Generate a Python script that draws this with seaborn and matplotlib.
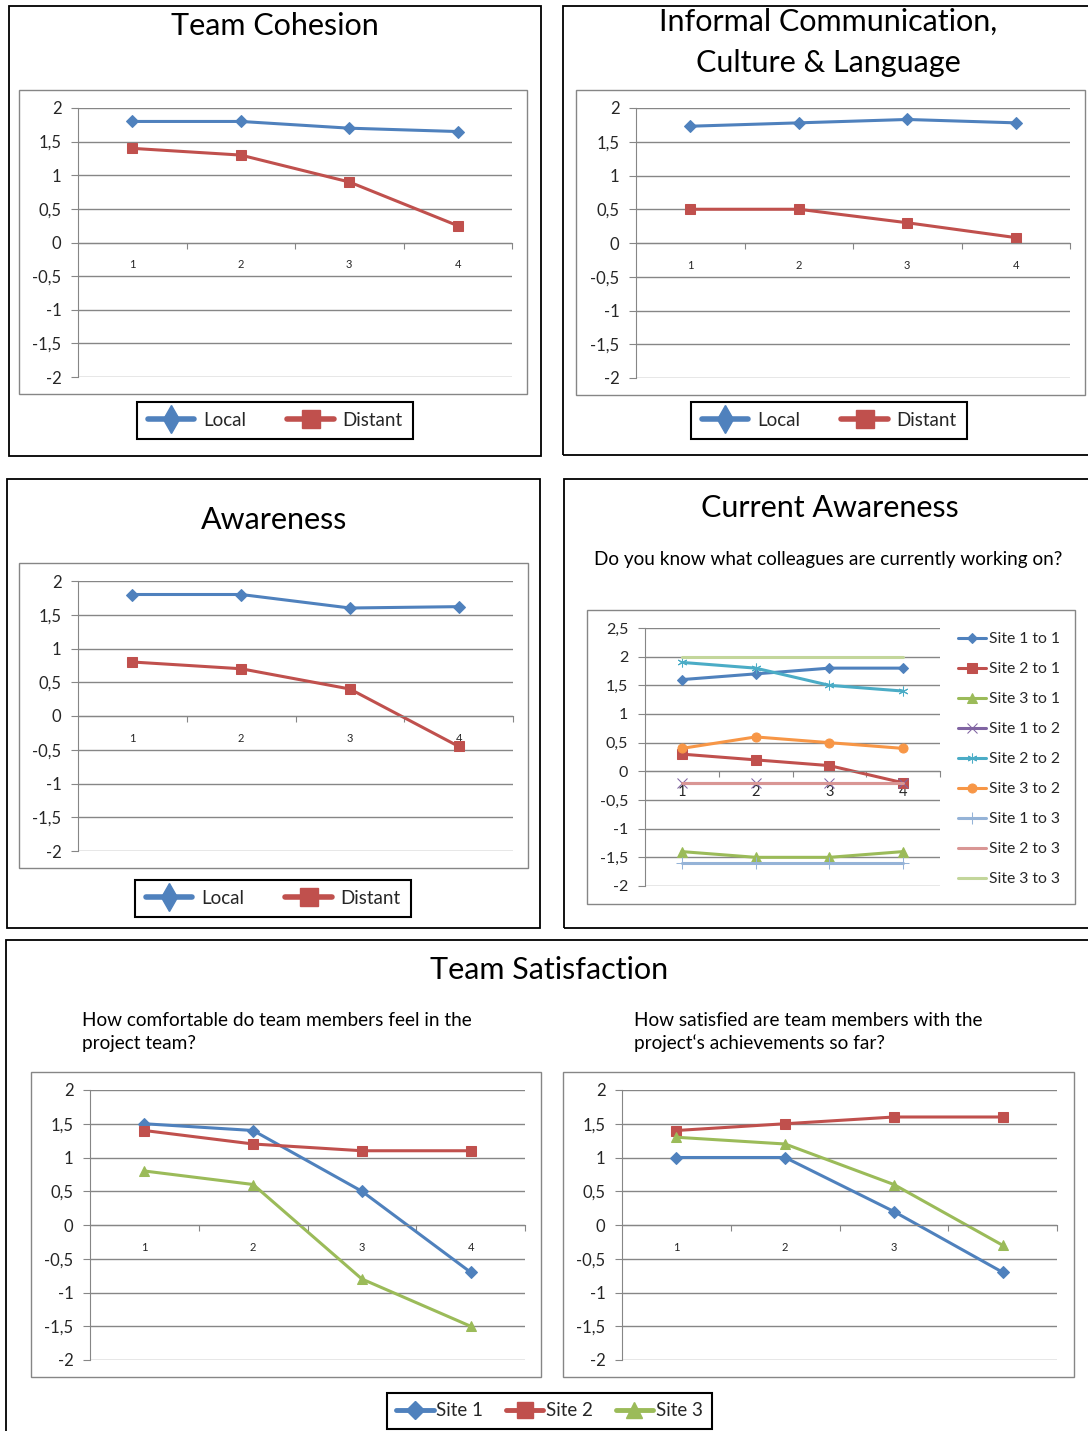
import seaborn as sns
import matplotlib.pyplot as plt
from matplotlib.patches import Rectangle
from matplotlib.lines import Line2D

# data
categories = [1, 2, 3, 4]

cohesion_local = [1.8, 1.8, 1.7, 1.65]
cohesion_distant = [1.4, 1.3, 0.9, 0.25]

informal_local = [1.73, 1.78, 1.83, 1.78]
informal_distant = [0.5, 0.5, 0.3, 0.08]

awareness_local = [1.8, 1.8, 1.6, 1.62]
awareness_distant = [0.8, 0.7, 0.4, -0.45]

site1_to_1 = [1.6, 1.7, 1.8, 1.8]
site2_to_1 = [0.3, 0.2, 0.1, -0.2]
site3_to_1 = [-1.4, -1.5, -1.5, -1.4]
site1_to_2 = [-0.2, -0.2, -0.2, -0.2]
site2_to_2 = [1.9, 1.8, 1.5, 1.4]
site3_to_2 = [0.4, 0.6, 0.5, 0.4]
site1_to_3 = [-1.6, -1.6, -1.6, -1.6]
site2_to_3 = [-0.2, -0.2, -0.2, -0.2]
site3_to_3 = [2.0, 2.0, 2.0, 2.0]
current_labels = ["Site 1 to 1", "Site 2 to 1", "Site 3 to 1",
                  "Site 1 to 2", "Site 2 to 2", "Site 3 to 2",
                  "Site 1 to 3", "Site 2 to 3", "Site 3 to 3"]

comfort_site1 = [1.5, 1.4, 0.5, -0.7]
comfort_site2 = [1.4, 1.2, 1.1, 1.1]
comfort_site3 = [0.8, 0.6, -0.8, -1.5]

achieve_site1 = [1.0, 1.0, 0.2, -0.7]
achieve_site2 = [1.4, 1.5, 1.6, 1.6]
achieve_site3 = [1.3, 1.2, 0.6, -0.3]

yticks_2 = [-2, -1.5, -1, -0.5, 0, 0.5, 1, 1.5, 2]
yticks_25 = [-2, -1.5, -1, -0.5, 0, 0.5, 1, 1.5, 2, 2.5]

BLUE, RED, GREEN = "#4F81BD", "#C0504D", "#9BBB59"
PURPLE, AQUA, ORANGE = "#8064A2", "#4BACC6", "#F79646"
LBLUE, PINK, LGREEN = "#95B3D7", "#D99694", "#C3D69B"
GRID = "#868686"

W, H = 1088, 1431

sns.set_style("white")
plt.rcParams["font.family"] = ["Lato", "DejaVu Sans"]

fig = plt.figure(figsize=(W / 100, H / 100), dpi=100)


def box(x0, y0, x1, y1):
    return [x0 / W, 1 - y1 / H, (x1 - x0) / W, (y1 - y0) / H]


def frame(x0, y0, x1, y1, color, lw):
    fig.patches.append(Rectangle((x0 / W, 1 - y1 / H), (x1 - x0) / W, (y1 - y0) / H,
                                 transform=fig.transFigure, fill=False,
                                 edgecolor=color, linewidth=lw))


def label(x, y, s, size, ha="center", va="center", spacing=1.2):
    fig.text(x / W, 1 - y / H, s, fontsize=size, ha=ha, va=va, color="black",
             linespacing=spacing)


def fmt(v):
    return ("%g" % v).replace(".", ",")


def excel_axes(ax, ticks, ytick_size=12, cat_size=8, cat_pad=12):
    ax.set_xlim(0.5, 4.5)
    ax.set_ylim(ticks[0], ticks[-1])
    ax.set_yticks(ticks)
    ax.set_yticklabels([fmt(t) for t in ticks])
    ax.yaxis.grid(True, color=GRID, linewidth=1)
    ax.xaxis.grid(False)
    ax.set_axisbelow(True)
    ax.spines["top"].set_visible(False)
    ax.spines["right"].set_visible(False)
    ax.spines["left"].set_color(GRID)
    ax.spines["bottom"].set_color(GRID)
    ax.spines["bottom"].set_position(("data", 0))
    ax.set_xticks([1.5, 2.5, 3.5, 4.5])
    ax.set_xticklabels([])
    ax.set_xticks(categories, minor=True)
    ax.set_xticklabels([str(c) for c in categories], minor=True)
    ax.tick_params(axis="x", which="major", length=4, color=GRID, direction="out", bottom=True)
    ax.tick_params(axis="x", which="minor", length=0, pad=cat_pad, labelsize=cat_size, bottom=True)
    ax.tick_params(axis="y", length=5, color=GRID, labelsize=ytick_size, pad=7, left=True)
    ax.set_xlabel("")
    ax.set_ylabel("")
    if ax.get_legend() is not None:
        ax.get_legend().remove()


def line(ax, values, color, marker, ms, name=None, lw=2.2):
    sns.lineplot(x=categories, y=values, ax=ax, color=color, marker=marker,
                 markersize=ms, markeredgecolor=color, markerfacecolor=color,
                 linewidth=lw, label=name)


def two_legend(cx, cy):
    handles = [Line2D([], [], color=BLUE, lw=4, marker="d", markersize=14),
               Line2D([], [], color=RED, lw=4, marker="s", markersize=13)]
    leg = fig.legend(handles, ["Local", "Distant"], loc="center",
                     bbox_to_anchor=(cx / W, 1 - cy / H), ncol=2, fontsize=13.5,
                     frameon=True, fancybox=False, edgecolor="black", framealpha=1,
                     handlelength=2.5, handletextpad=0.45, columnspacing=2.2,
                     borderpad=0.55)
    leg.get_frame().set_linewidth(1.5)


# outer panel frames
frame(9, 6, 541, 456, "black", 1.3)
frame(563, 6, 1095, 455, "black", 1.3)
frame(7, 479, 540, 928, "black", 1.3)
frame(564, 479, 1095, 928, "black", 1.3)
frame(6, 940, 1095, 1440, "black", 1.3)

# inner chart frames
frame(19, 90, 527, 394, GRID, 1)
frame(576, 90, 1085, 395, GRID, 1)
frame(19, 563, 528, 868, GRID, 1)
frame(587, 610, 1075, 904, GRID, 1)
frame(31, 1072, 541, 1377, GRID, 1)
frame(563, 1072, 1074, 1377, GRID, 1)

# Team Cohesion
ax = fig.add_axes(box(78, 108, 512, 377))
line(ax, cohesion_local, BLUE, "D", 6.5)
line(ax, cohesion_distant, RED, "s", 7.5)
excel_axes(ax, yticks_2)
label(275, 26, "Team Cohesion", 22)
two_legend(275, 420.5)

# Informal Communication
ax = fig.add_axes(box(636, 108, 1070, 378))
line(ax, informal_local, BLUE, "D", 6.5)
line(ax, informal_distant, RED, "s", 7.5)
excel_axes(ax, yticks_2)
label(828, 22, "Informal Communication,", 22)
label(828, 63, "Culture & Language", 22)
two_legend(829, 420.5)

# Awareness
ax = fig.add_axes(box(78, 581, 513, 851))
line(ax, awareness_local, BLUE, "D", 6.5)
line(ax, awareness_distant, RED, "s", 7.5)
excel_axes(ax, yticks_2)
label(274, 520, "Awareness", 22)
two_legend(273, 898.5)

# Current Awareness
ax = fig.add_axes(box(645, 628, 940, 886))
line(ax, site1_to_1, BLUE, "D", 5, current_labels[0])
line(ax, site2_to_1, RED, "s", 6.5, current_labels[1])
line(ax, site3_to_1, GREEN, "^", 6.5, current_labels[2])
line(ax, site1_to_2, PURPLE, "x", 6.5, current_labels[3])
line(ax, site2_to_2, AQUA, (6, 2, 0), 7, current_labels[4])
line(ax, site3_to_2, ORANGE, "o", 6.5, current_labels[5])
line(ax, site1_to_3, LBLUE, "+", 8, current_labels[6])
line(ax, site2_to_3, PINK, None, 0, current_labels[7])
line(ax, site3_to_3, LGREEN, None, 0, current_labels[8])
handles, labels = ax.get_legend_handles_labels()
excel_axes(ax, yticks_25, ytick_size=11.5, cat_size=10.5, cat_pad=10)
fig.legend(handles, labels, loc="upper left", bbox_to_anchor=(958 / W, 1 - 632 / H),
           frameon=False, fontsize=11.3, handlelength=1.8, handletextpad=0.15,
           labelspacing=1.02, borderpad=0, borderaxespad=0)
label(830, 508, "Current Awareness", 22)
label(828, 560, "Do you know what colleagues are currently working on?", 13.7)

# Team Satisfaction
label(549, 970, "Team Satisfaction", 22)
label(82, 1032, "How comfortable do team members feel in the\nproject team?", 13.7,
      ha="left", spacing=1.4)
label(634, 1032, "How satisfied are team members with the\nproject‘s achievements so far?", 13.7,
      ha="left", spacing=1.4)

ax = fig.add_axes(box(90, 1090, 525, 1360))
line(ax, comfort_site1, BLUE, "D", 6)
line(ax, comfort_site2, RED, "s", 7)
line(ax, comfort_site3, GREEN, "^", 7)
excel_axes(ax, yticks_2)

ax = fig.add_axes(box(622, 1090, 1057, 1360))
line(ax, achieve_site1, BLUE, "D", 6)
line(ax, achieve_site2, RED, "s", 7)
line(ax, achieve_site3, GREEN, "^", 7)
excel_axes(ax, yticks_2)

sat_handles = [Line2D([], [], color=BLUE, lw=3.5, marker="D", markersize=9),
               Line2D([], [], color=RED, lw=3.5, marker="s", markersize=11),
               Line2D([], [], color=GREEN, lw=3.5, marker="^", markersize=11)]
leg = fig.legend(sat_handles, ["Site 1", "Site 2", "Site 3"], loc="center",
                 bbox_to_anchor=(549.5 / W, 1 - 1411 / H), ncol=3, fontsize=13.5,
                 frameon=True, fancybox=False, edgecolor="black", framealpha=1,
                 handlelength=2.0, handletextpad=0.15, columnspacing=1.2,
                 borderpad=0.5)
leg.get_frame().set_linewidth(1.5)

fig.savefig("out.png", dpi=100)
